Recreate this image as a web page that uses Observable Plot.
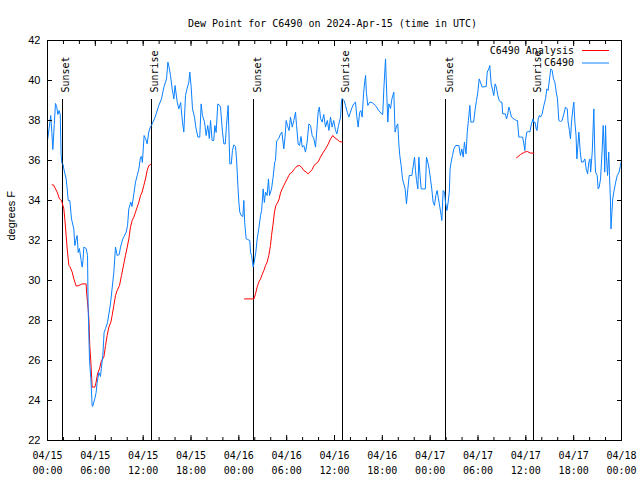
<!DOCTYPE html>
<html>
<head>
<meta charset="utf-8">
<script src="https://cdn.jsdelivr.net/npm/d3@7"></script>
<script src="https://cdn.jsdelivr.net/npm/@observablehq/plot@0.6"></script>
<style>
  body { margin: 0; background: #fff; }
  #chart svg { display: block; }
</style>
</head>
<body>
<div id="chart"></div>
<script>
// ---- Text ----
const chartTitle = "Dew Point for C6490 on 2024-Apr-15 (time in UTC)";
const yLabel = "degrees F";
const legendLabels = ["C6490 Analysis", "C6490"];

// ---- Axes ----
const startUTC = Date.UTC(2024, 3, 15, 0, 0);
const xTickHours = [0, 6, 12, 18, 24, 30, 36, 42, 48, 54, 60, 66, 72];
const xTickLabels = ["04/15\n00:00", "04/15\n06:00", "04/15\n12:00", "04/15\n18:00",
  "04/16\n00:00", "04/16\n06:00", "04/16\n12:00", "04/16\n18:00",
  "04/17\n00:00", "04/17\n06:00", "04/17\n12:00", "04/17\n18:00", "04/18\n00:00"];
const xMinorHours = [0,2,4,6,8,10,12,14,16,18,20,22,24,26,28,30,32,34,36,38,40,42,44,46,48,50,52,54,56,58,60,62,64,66,68,70,72];
const yTicks = [22, 24, 26, 28, 30, 32, 34, 36, 38, 40, 42];

// ---- Sunset / sunrise markers (hours since 04/15 00:00 UTC) ----
const eventLabels = ["Sunset", "Sunrise", "Sunset", "Sunrise", "Sunset", "Sunrise"];
const eventHours = [1.84, 12.99, 25.87, 36.96, 49.96, 61.0];

// ---- Observed dew point C6490: [hours since start, degF] ----
const obs = [
[0.0,37.0],[0.2,37.6],[0.4,38.25],[0.55,37.4],[0.67,36.55],[0.85,37.8],[1.0,38.85],[1.15,38.7],[1.3,38.3],[1.45,38.5],[1.6,38.3],[1.7,36.35],[1.8,35.87],[1.95,35.8],
[2.05,35.58],[2.34,35.08],[2.47,34.58],[2.6,34.0],[2.8,34.0],[3.01,33.08],[3.3,32.58],[3.43,31.75],[3.55,32.0],[3.72,32.25],[3.85,31.4],[4.0,31.6],[4.22,31.0],[4.35,30.67],
[4.45,31.0],[4.56,31.67],[4.85,31.6],[5.02,31.25],[5.1,28.58],[5.15,27.9],[5.27,26.0],[5.44,25.08],[5.6,23.75],[5.66,23.7],[5.94,24.1],[6.1,24.4],[6.23,24.9],[6.44,25.4],
[6.65,25.2],[6.75,25.6],[6.94,26.25],[7.1,27.4],[7.28,27.6],[7.53,27.9],[7.7,28.33],[7.9,28.83],[8.1,29.58],[8.32,30.42],[8.53,31.67],[8.74,31.25],[9.0,31.3],[9.16,31.67],
[9.45,32.08],[9.6,32.2],[9.87,32.42],[10.04,32.75],[10.2,33.58],[10.45,33.92],[10.6,33.7],[10.83,34.33],[11.04,34.92],[11.25,35.25],[11.46,35.58],[11.67,36.17],[11.8,36.2],
[11.9,35.9],[12.12,37.25],[12.3,37.1],[12.5,36.83],[12.7,37.42],[12.9,37.67],[13.1,37.8],[13.5,38.17],[13.96,38.75],[14.3,39.08],[14.6,39.67],[14.93,40.08],[15.1,40.92],
[15.25,40.67],[15.43,40.25],[15.64,39.58],[15.85,39.08],[16.0,39.75],[16.27,38.92],[16.47,38.58],[16.7,38.9],[16.93,37.92],[17.1,37.42],[17.31,39.25],[17.5,39.58],[17.73,39.92],
[17.85,40.42],[18.02,39.67],[18.19,38.58],[18.44,38.17],[18.6,37.67],[18.86,37.17],[19.1,37.17],[19.27,38.83],[19.44,38.25],[19.7,37.92],[19.9,37.25],[20.1,37.75],[20.3,37.1],
[20.45,38.0],[20.65,37.0],[20.85,37.0],[20.99,37.75],[21.15,37.4],[21.36,38.83],[21.6,38.75],[21.7,38.67],[21.95,37.42],[22.12,36.83],[22.3,36.83],[22.45,37.75],[22.66,38.75],
[22.87,35.83],[23.05,35.83],[23.2,36.5],[23.37,36.78],[23.58,36.7],[23.71,36.08],[23.88,34.75],[24.0,33.92],[24.12,33.42],[24.3,33.25],[24.5,33.2],[24.63,34.0],[24.73,32.92],
[24.92,32.08],[25.1,32.05],[25.38,32.0],[25.46,31.42],[25.6,31.25],[25.8,30.67],[25.92,30.9],[26.13,31.42],[26.3,32.08],[26.5,32.58],[26.72,33.25],[26.86,33.5],[27.05,34.58],
[27.2,33.9],[27.35,34.42],[27.55,34.25],[27.72,35.08],[27.85,34.25],[28.1,34.58],[28.3,35.17],[28.5,35.92],[28.6,36.0],[28.73,36.92],[28.81,37.0],[29.0,37.1],[29.23,37.33],
[29.4,37.42],[29.64,36.58],[29.8,37.2],[29.94,38.0],[30.1,37.75],[30.3,37.5],[30.48,38.17],[30.7,37.67],[30.9,38.0],[31.11,38.42],[31.24,37.75],[31.44,36.83],[31.61,36.75],
[31.8,37.2],[31.95,36.67],[32.15,36.75],[32.36,36.42],[32.57,36.92],[32.78,37.83],[33.0,37.75],[33.2,37.25],[33.4,37.1],[33.62,36.67],[33.83,37.75],[33.95,38.42],[34.1,38.67],
[34.25,38.1],[34.45,37.92],[34.65,38.3],[34.87,37.67],[35.1,38.0],[35.3,37.5],[35.5,38.17],[35.7,37.67],[35.9,38.0],[36.13,37.5],[36.3,37.33],[36.5,37.75],[36.76,38.17],
[36.88,39.0],[36.96,39.1],[37.2,39.0],[37.38,38.75],[37.6,38.42],[37.8,38.17],[38.0,38.42],[38.22,38.67],[38.45,38.85],[38.63,38.92],[38.8,38.2],[38.97,37.67],[39.15,38.4],
[39.3,38.5],[39.47,38.17],[39.64,39.33],[39.81,40.0],[39.9,40.25],[40.0,39.4],[40.18,38.75],[40.43,38.92],[40.7,38.9],[41.14,38.75],[41.56,38.5],[41.9,38.33],[42.05,38.3],
[42.19,39.58],[42.4,41.08],[42.53,39.58],[42.69,37.92],[42.82,38.83],[43.03,38.6],[43.2,39.08],[43.44,39.42],[43.52,38.42],[43.6,37.42],[43.8,37.75],[43.94,37.83],[44.07,36.83],
[44.19,36.25],[44.36,35.75],[44.53,35.08],[44.7,34.83],[44.86,34.58],[45.03,33.83],[45.2,34.58],[45.37,35.25],[45.7,35.25],[46.04,36.17],[46.16,35.5],[46.29,35.0],[46.46,34.58],
[46.58,36.17],[46.7,35.42],[46.87,34.58],[47.2,34.58],[47.4,34.58],[47.54,36.17],[47.7,35.92],[47.87,35.58],[48.04,35.08],[48.2,34.58],[48.37,33.92],[48.54,33.75],[48.71,34.25],
[48.87,34.5],[49.04,34.08],[49.21,33.67],[49.38,33.25],[49.46,33.0],[49.63,34.5],[49.8,34.42],[49.92,33.92],[50.1,33.5],[50.25,33.9],[50.4,34.42],[50.5,35.58],[50.63,35.92],
[50.8,36.25],[50.97,36.58],[51.2,36.75],[51.6,36.75],[51.8,36.25],[51.97,36.58],[52.14,36.17],[52.3,36.92],[52.5,36.33],[52.65,37.42],[52.8,38.0],[52.98,38.75],[53.1,37.92],
[53.27,37.92],[53.45,37.92],[53.65,38.58],[53.81,39.0],[53.98,39.42],[54.15,40.08],[54.3,39.92],[54.52,39.67],[55.03,39.7],[55.16,40.42],[55.35,40.58],[55.48,40.75],[55.65,39.83],
[55.8,39.58],[55.98,39.25],[56.15,39.83],[56.3,39.67],[56.49,39.25],[56.66,39.0],[56.82,38.92],[57.0,38.92],[57.1,38.33],[57.44,38.33],[57.58,38.08],[57.7,38.25],[57.87,38.67],
[58.0,38.5],[58.2,38.17],[58.5,38.08],[58.8,38.0],[58.95,38.0],[59.12,37.17],[59.37,37.17],[59.6,37.17],[59.75,36.83],[59.88,36.5],[59.96,37.0],[60.12,37.42],[60.37,37.45],
[60.5,37.42],[60.71,37.83],[60.9,38.08],[61.0,37.9],[61.15,37.92],[61.3,37.58],[61.4,37.5],[61.55,38.08],[61.7,38.25],[61.84,38.17],[62.05,38.33],[62.26,38.75],[62.47,39.08],
[62.64,39.58],[62.8,39.5],[62.97,40.08],[63.13,40.58],[63.3,40.5],[63.47,40.08],[63.64,39.92],[63.81,39.42],[63.97,39.08],[64.14,38.0],[64.35,37.95],[64.55,38.0],[64.77,38.33],
[64.98,38.67],[65.2,38.58],[65.3,37.92],[65.47,37.5],[65.6,37.08],[65.73,37.92],[65.9,38.58],[66.02,38.92],[66.15,37.92],[66.3,37.25],[66.4,36.08],[66.5,36.58],[66.65,37.42],
[66.83,36.42],[66.98,35.92],[67.2,35.92],[67.4,36.08],[67.57,35.58],[67.75,35.33],[67.9,35.92],[68.05,36.08],[68.13,35.42],[68.33,36.42],[68.53,38.58],[68.65,36.42],[68.74,35.42],
[68.95,35.25],[69.07,34.58],[69.2,34.67],[69.37,35.08],[69.58,36.58],[69.7,37.75],[69.83,36.58],[69.9,35.42],[70.0,37.75],[70.1,36.25],[70.25,35.25],[70.4,36.42],[70.5,35.25],
[70.62,33.92],[70.68,32.58],[70.8,33.42],[70.9,34.08],[71.07,34.5],[71.27,34.92],[71.47,35.25],[71.7,35.42],[71.87,35.75],[72.0,36.0]
];

// ---- Analysis C6490 (three separate segments) ----
const analysisNight1 = [
[0.58,34.78],[0.75,34.78],[1.21,34.42],[1.5,34.08],[1.76,34.0],[2.05,33.58],[2.17,33.08],[2.34,32.25],[2.47,31.58],[2.68,30.75],[2.8,30.7],[3.1,30.42],[3.3,30.08],
[3.6,29.72],[3.93,29.75],[4.35,29.83],[4.85,29.83],[4.9,29.42],[5.1,28.58],[5.19,28.08],[5.3,26.75],[5.44,25.92],[5.6,24.67],[5.94,24.67],[6.1,24.92],[6.27,25.33],
[6.52,25.58],[6.77,26.0],[7.07,26.17],[7.28,26.75],[7.48,27.25],[7.7,27.67],[7.95,27.92],[8.11,28.25],[8.32,28.75],[8.53,29.25],[8.74,29.5],[9.03,29.75],[9.28,30.25],
[9.57,30.83],[9.78,31.25],[10.0,31.67],[10.2,32.08],[10.41,32.67],[10.62,33.0],[10.83,33.17],[11.04,33.42],[11.25,33.67],[11.46,33.92],[11.67,34.25],[11.87,34.42],
[12.08,34.75],[12.29,35.08],[12.5,35.5],[12.71,35.75],[12.96,35.8]
];
const analysisNight2 = [
[24.71,29.08],[25.9,29.08],[26.09,29.33],[26.3,29.67],[26.5,29.92],[26.72,30.08],[26.93,30.3],[27.14,30.5],[27.35,30.75],[27.55,30.92],[27.76,31.25],[27.97,31.75],
[28.1,32.25],[28.27,32.75],[28.47,33.42],[28.65,33.75],[28.9,33.92],[29.06,34.08],[29.23,34.38],[29.44,34.58],[29.64,34.75],[29.85,34.92],[30.06,35.08],[30.27,35.25],
[30.48,35.37],[30.7,35.42],[30.9,35.55],[31.11,35.63],[31.3,35.72],[31.61,35.75],[31.86,35.67],[32.15,35.5],[32.45,35.42],[32.7,35.33],[32.9,35.42],[33.2,35.55],
[33.4,35.72],[33.62,35.83],[33.95,35.93],[34.24,36.17],[34.54,36.38],[34.87,36.58],[35.16,36.78],[35.5,37.08],[35.79,37.25],[36.04,37.13],[36.34,37.05],[36.63,36.95],[36.96,36.92]
];
const analysisNight3 = [
[58.83,36.13],[59.33,36.3],[59.83,36.42],[60.2,36.45],[60.6,36.37],[61.0,36.37]
];

// ---- Build tables ----
const toDate = h => new Date(startUTC + h * 3600e3);
const obsData = obs.map(([h, v]) => ({t: toDate(h), v}));
const anaData = [analysisNight1, analysisNight2, analysisNight3]
  .flatMap((seg, i) => seg.map(([h, v]) => ({t: toDate(h), v, seg: i})));
const events = eventHours.map((h, i) => ({t: toDate(h), label: eventLabels[i]}));
const xTicks = xTickHours.map(toDate);
const xMinor = xMinorHours.map(toDate);
const labelOf = new Map(xTickHours.map((h, i) => [+toDate(h), xTickLabels[i]]));

const mono = "DejaVu Sans Mono";
const sans = "Liberation Sans";
const blue = "#0a80ff";
const red = "#ff0000";
const blank = () => "";

const W = 640, H = 480, mL = 47, mR = 19, mT = 40, mB = 40;

const plot = Plot.plot({
  width: W, height: H,
  marginLeft: mL, marginRight: mR, marginTop: mT, marginBottom: mB,
  x: {type: "utc", domain: [toDate(0), toDate(72)]},
  y: {domain: [22, 42]},
  style: {fontFamily: mono, fontSize: "10px", background: "white", color: "black", overflow: "visible"},
  marks: [
    Plot.ruleX(events, {x: "t", y1: 22, y2: 39.05, stroke: "black", strokeWidth: 1, shapeRendering: "crispEdges"}),
    Plot.text(events, {x: "t", text: "label", frameAnchor: "top", dy: 52, rotate: -90,
      textAnchor: "start", fontFamily: mono, fontSize: 10}),
    Plot.line(anaData, {x: "t", y: "v", z: "seg", stroke: red, strokeWidth: 1, curve: "linear"}),
    Plot.line(obsData, {x: "t", y: "v", stroke: blue, strokeWidth: 1, curve: "linear"}),
    Plot.frame({stroke: "black", strokeWidth: 1, shapeRendering: "crispEdges"}),
    Plot.axisX({ticks: xTicks, anchor: "bottom", tickSize: -5, tickPadding: 13, tickFormat: d => labelOf.get(+d),
      lineHeight: 1.5, fontFamily: mono, fontSize: 10, label: null}),
    Plot.axisX({ticks: xTicks, anchor: "top", tickSize: -5, tickFormat: blank, label: null}),
    Plot.axisX({ticks: xMinor, anchor: "bottom", tickSize: -3, tickFormat: blank, label: null}),
    Plot.axisX({ticks: xMinor, anchor: "top", tickSize: -3, tickFormat: blank, label: null}),
    Plot.axisY({ticks: yTicks, anchor: "left", tickSize: -5, tickPadding: 12, fontFamily: sans, fontSize: 11, label: null}),
    Plot.axisY({ticks: yTicks, anchor: "right", tickSize: -5, tickFormat: blank, label: null}),
    Plot.text([yLabel], {frameAnchor: "left", dx: -36, rotate: -90, fontFamily: sans, fontSize: 11}),
    Plot.text([chartTitle], {frameAnchor: "top", dx: -2, dy: -21, fontFamily: mono, fontSize: 10})
  ]
});

// ---- Legend (top-right inside the frame) ----
const svg = d3.select(plot);
const frameRight = W - mR;
const leg = svg.append("g").attr("font-family", mono).attr("font-size", 10);
const legendColors = [red, blue];
legendLabels.forEach((lab, i) => {
  const y = mT + 10 + i * 12.5;
  leg.append("text").attr("x", frameRight - 47).attr("y", y).attr("dy", "0.35em")
    .attr("text-anchor", "end").attr("fill", "black").text(lab);
  leg.append("line").attr("x1", frameRight - 39).attr("x2", frameRight - 12)
    .attr("y1", y + 0.5).attr("y2", y + 0.5).attr("stroke", legendColors[i]).attr("stroke-width", 1);
});

document.getElementById("chart").appendChild(plot);
</script>
</body>
</html>
